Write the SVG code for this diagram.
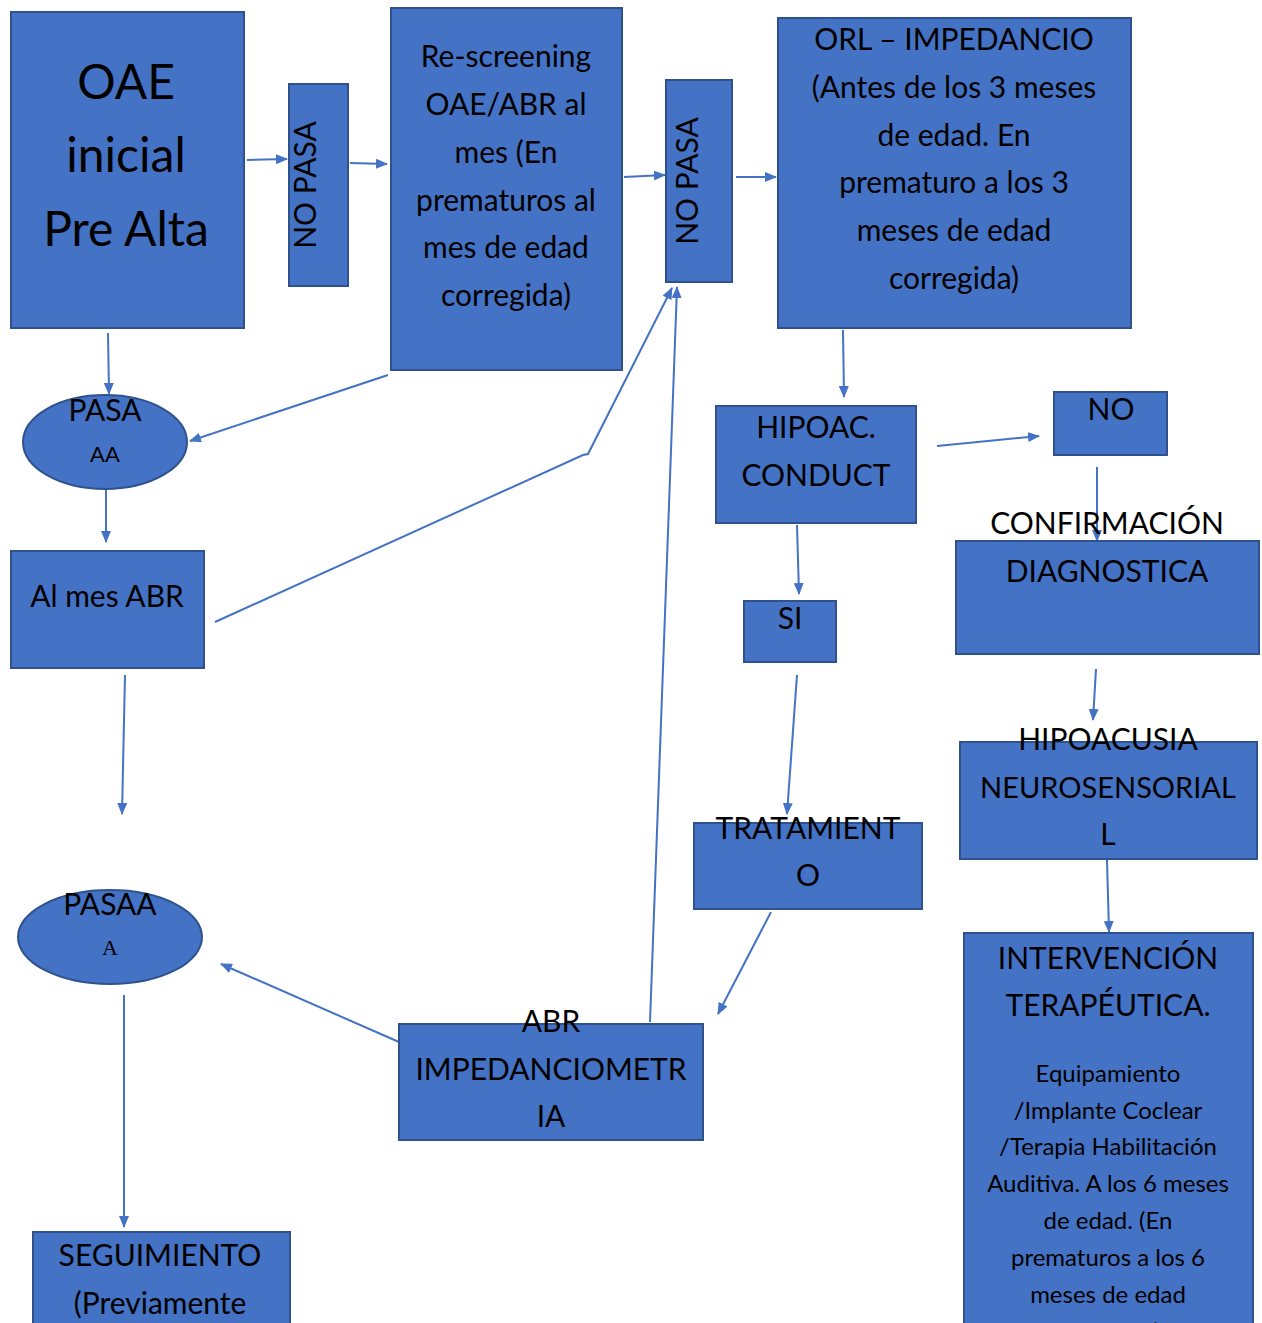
<svg xmlns="http://www.w3.org/2000/svg" width="1262" height="1323" viewBox="0 0 1262 1323">
<defs>
<marker id="ah" markerUnits="userSpaceOnUse" markerWidth="12" markerHeight="10" refX="11" refY="5" orient="auto">
<path d="M0,0 L12,5 L0,10 Z" fill="#4472C4"/>
</marker>
<style>
.b{fill:#4472C4;stroke:#2F528F;stroke-width:2}
.t{font-family:Lato,"Open Sans",sans-serif;font-size:30px;fill:#000;text-anchor:middle}
.big{font-size:48px}
.sm{font-size:24px}
.c line,.c polyline{stroke:#4472C4;stroke-width:2;fill:none}
</style>
</defs>
<rect width="1262" height="1323" fill="#fff"/>
<g class="c">
<line x1="247" y1="160" x2="287" y2="159" marker-end="url(#ah)"/>
<line x1="350" y1="163" x2="387" y2="164" marker-end="url(#ah)"/>
<line x1="624" y1="177" x2="665" y2="175" marker-end="url(#ah)"/>
<line x1="736" y1="177" x2="776" y2="177" marker-end="url(#ah)"/>
<line x1="108" y1="333" x2="109" y2="394" marker-end="url(#ah)"/>
<line x1="388" y1="375" x2="190" y2="441" marker-end="url(#ah)"/>
<line x1="106" y1="490" x2="106" y2="542" marker-end="url(#ah)"/>
<polyline points="215,622 583,455 588,454 672,288" marker-end="url(#ah)"/>
<line x1="650" y1="1022" x2="677" y2="287" marker-end="url(#ah)"/>
<line x1="125" y1="675" x2="122" y2="814" marker-end="url(#ah)"/>
<line x1="124" y1="995" x2="124" y2="1227" marker-end="url(#ah)"/>
<line x1="399" y1="1042" x2="221" y2="964" marker-end="url(#ah)"/>
<line x1="771" y1="912" x2="718" y2="1014" marker-end="url(#ah)"/>
<line x1="797" y1="675" x2="787" y2="814" marker-end="url(#ah)"/>
<line x1="797" y1="525" x2="799" y2="594" marker-end="url(#ah)"/>
<line x1="843" y1="330" x2="844" y2="397" marker-end="url(#ah)"/>
<line x1="937" y1="446" x2="1039" y2="436" marker-end="url(#ah)"/>
<line x1="1097" y1="467" x2="1097" y2="541" marker-end="url(#ah)"/>
<line x1="1096" y1="669" x2="1093" y2="720" marker-end="url(#ah)"/>
<line x1="1107" y1="860" x2="1109" y2="932" marker-end="url(#ah)"/>
</g>
<g id="oae">
<rect class="b" x="11" y="12" width="233" height="316"/>
<text class="t big" x="126" y="99">OAE</text>
<text class="t big" x="126" y="172">inicial</text>
<text class="t big" x="126" y="246">Pre Alta</text>
</g>
<g id="nopasa1">
<rect class="b" x="289" y="84" width="59" height="202"/>
<text class="t" transform="translate(316,185) rotate(-90)" x="0" y="0">NO PASA</text>
</g>
<g id="rescreening">
<rect class="b" x="391" y="8" width="231" height="362"/>
<text class="t" x="506" y="67">Re-screening</text>
<text class="t" x="506" y="115">OAE/ABR al</text>
<text class="t" x="506" y="163">mes (En</text>
<text class="t" x="506" y="211">prematuros al</text>
<text class="t" x="506" y="258">mes de edad</text>
<text class="t" x="506" y="306">corregida)</text>
</g>
<g id="nopasa2">
<rect class="b" x="666" y="80" width="66" height="202"/>
<text class="t" transform="translate(698,181) rotate(-90)" x="0" y="0">NO PASA</text>
</g>
<g id="orl">
<rect class="b" x="778" y="18" width="353" height="310"/>
<text class="t" x="954" y="50">ORL – IMPEDANCIO</text>
<text class="t" x="954" y="98">(Antes de los 3 meses</text>
<text class="t" x="954" y="146">de edad. En</text>
<text class="t" x="954" y="193">prematuro a los 3</text>
<text class="t" x="954" y="241">meses de edad</text>
<text class="t" x="954" y="289">corregida)</text>
</g>
<g id="pasa1">
<ellipse class="b" cx="105" cy="442" rx="82" ry="47"/>
<text class="t" x="105" y="421">PASA</text>
<text class="t" x="105" y="462" style="font-size:22px">AA</text>
</g>
<g id="almes">
<rect class="b" x="11" y="551" width="193" height="117"/>
<text class="t" x="107" y="607">Al mes ABR</text>
</g>
<g id="pasa2">
<ellipse class="b" cx="110" cy="937" rx="92" ry="47"/>
<text class="t" x="110" y="915">PASAA</text>
<text class="t" x="110" y="955" style="font-family:'Liberation Serif',serif;font-size:22px">A</text>
</g>
<g id="seguimiento">
<rect class="b" x="33" y="1232" width="257" height="100"/>
<text class="t" x="160" y="1266">SEGUIMIENTO</text>
<text class="t" x="160" y="1314">(Previamente</text>
</g>
<g id="hipoac">
<rect class="b" x="716" y="406" width="200" height="117"/>
<text class="t" x="816" y="438">HIPOAC.</text>
<text class="t" x="816" y="486">CONDUCT</text>
</g>
<g id="no">
<rect class="b" x="1054" y="392" width="113" height="63"/>
<text class="t" x="1111" y="420">NO</text>
</g>
<g id="confirmacion">
<rect class="b" x="956" y="541" width="303" height="113"/>
<text class="t" x="1107" y="534">CONFIRMACIÓN</text>
<text class="t" x="1107" y="582">DIAGNOSTICA</text>
</g>
<g id="si">
<rect class="b" x="744" y="601" width="92" height="61"/>
<text class="t" x="790" y="629">SI</text>
</g>
<g id="neuro">
<rect class="b" x="960" y="742" width="297" height="117"/>
<text class="t" x="1108" y="750">HIPOACUSIA</text>
<text class="t" x="1108" y="798" style="font-size:29px">NEUROSENSORIAL</text>
<text class="t" x="1108" y="845">L</text>
</g>
<g id="tratamiento">
<rect class="b" x="694" y="823" width="228" height="86"/>
<text class="t" x="808" y="839">TRATAMIENT</text>
<text class="t" x="808" y="886">O</text>
</g>
<g id="abr">
<rect class="b" x="399" y="1024" width="304" height="116"/>
<text class="t" x="551" y="1032">ABR</text>
<text class="t" x="551" y="1080">IMPEDANCIOMETR</text>
<text class="t" x="551" y="1127">IA</text>
</g>
<g id="intervencion">
<rect class="b" x="964" y="933" width="289" height="400"/>
<text class="t" x="1108" y="969">INTERVENCIÓN</text>
<text class="t" x="1108" y="1016">TERAPÉUTICA.</text>
<text class="t sm" x="1108" y="1082">Equipamiento</text>
<text class="t sm" x="1108" y="1119">/Implante Coclear</text>
<text class="t sm" x="1108" y="1155">/Terapia Habilitación</text>
<text class="t sm" x="1108" y="1192">Auditiva. A los 6 meses</text>
<text class="t sm" x="1108" y="1229">de edad. (En</text>
<text class="t sm" x="1108" y="1266">prematuros a los 6</text>
<text class="t sm" x="1108" y="1303">meses de edad</text>
<text class="t sm" x="1108" y="1340">corregida)</text>
</g>
</svg>
